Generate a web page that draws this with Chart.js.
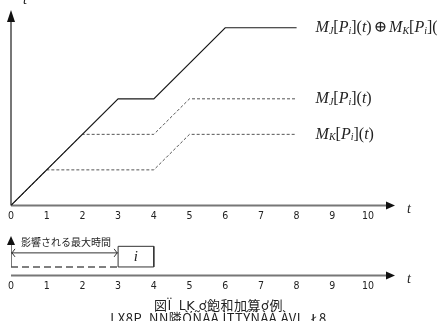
<!DOCTYPE html>
<html>
<head>
<meta charset="utf-8">
<script src="https://cdn.jsdelivr.net/npm/chart.js@4.4.1/dist/chart.umd.min.js"></script>
<style>
    body { margin: 0; background: #fff; }
    #wrap { position: relative; width: 437px; height: 321px; overflow: hidden; background: #fff; }
    #topBox { position: absolute; left: 0; top: 0; width: 437px; height: 228px; }
    #bottomBox { position: absolute; left: 0; top: 228px; width: 437px; height: 72px; }
    .caption { position: absolute; left: 0; width: 437px; text-align: center; color: #222;
        font-family: "Noto Sans CJK JP", "DejaVu Sans", sans-serif; font-size: 13px; line-height: 14px; white-space: pre; letter-spacing: 0.5px; }
</style>
</head>
<body>
<div id="wrap">
    <div id="topBox"><canvas id="topChart" width="437" height="228"></canvas></div>
    <div id="bottomBox"><canvas id="bottomChart" width="437" height="72"></canvas></div>
    <div class="caption" style="top:298px;">図Ï  LĶ ơ飽和加算ơ例</div>
    <div class="caption" style="top:311px;">LX8P  NN隣ÒÑÀÀ ÌTTÝÑÀÀ ÀVL  Ł8</div>
</div>
<script>
// time axis
const xTicks = [0, 1, 2, 3, 4, 5, 6, 7, 8, 9, 10];

// M_J (+) M_K : saturated sum
const sumT = [0, 3, 4, 6, 8];
const sumV = [0, 3, 3, 5, 5];
// M_J[P_i](t)
const jT = [0, 2, 4, 5, 8];
const jV = [0, 2, 2, 3, 3];
// M_K[P_i](t)
const kT = [0, 1, 4, 5, 8];
const kV = [0, 1, 1, 2, 2];

// lower strip: task i occupies [3,4], max affected time 0..3
const waitT = [0, 3];
const waitV = [0.9, 0.9];
const taskT = [3, 3, 4, 4, 3];
const taskV = [0.9, 3.1, 3.1, 0.9, 0.9];
const spanT = [0, 3];
const spanV = [2.4, 2.4];
const markT = [0, 0];
const markV = [0.9, 3.5];

const toPoints = (xs, ys) => xs.map((x, i) => ({ x: x, y: ys[i] }));

const serif = '"Liberation Serif", "DejaVu Serif", serif';

// draws a math-ish label made of pieces (italic / subscript)
function drawMath(ctx, parts, x, y, size) {
    let cx = x;
    parts.forEach(p => {
        const s = p.sub ? Math.round(size * 0.6) : size;
        ctx.font = (p.it ? 'italic ' : '') + s + 'px ' + serif;
        ctx.fillText(p.t, cx, y + (p.sub ? size * 0.22 : 0));
        cx += ctx.measureText(p.t).width + (p.gap || 0);
    });
}

const mj = [{ t: 'M', it: true }, { t: 'J', it: true, sub: true }, { t: '[' }, { t: 'P', it: true },
    { t: 'i', it: true, sub: true }, { t: '](' }, { t: 't', it: true }, { t: ')' }];
const mk = [{ t: 'M', it: true }, { t: 'K', it: true, sub: true }, { t: '[' }, { t: 'P', it: true },
    { t: 'i', it: true, sub: true }, { t: '](' }, { t: 't', it: true }, { t: ')' }];
const msum = [{ t: 'M', it: true }, { t: 'J', it: true, sub: true }, { t: '[' }, { t: 'P', it: true },
    { t: 'i', it: true, sub: true }, { t: '](' }, { t: 't', it: true }, { t: ')', gap: 2 }, { t: '⊕', gap: 2 },
    { t: 'M', it: true }, { t: 'K', it: true, sub: true }, { t: '[' }, { t: 'P', it: true },
    { t: 'i', it: true, sub: true }, { t: '](' }];

function triangle(ctx, pts) {
    ctx.beginPath();
    ctx.moveTo(pts[0][0], pts[0][1]);
    ctx.lineTo(pts[1][0], pts[1][1]);
    ctx.lineTo(pts[2][0], pts[2][1]);
    ctx.closePath();
    ctx.fill();
}

// axis lines with arrow heads
const arrowAxes = {
    id: 'arrowAxes',
    beforeDatasetsDraw(chart, args, opts) {
        const { ctx, chartArea } = chart;
        const L = chartArea.left, B = chartArea.bottom;
        const xEnd = chart.scales.x.right + 1;
        ctx.save();
        ctx.strokeStyle = '#777';
        ctx.lineWidth = 2;
        ctx.beginPath();
        ctx.moveTo(L, B);
        ctx.lineTo(xEnd - 6, B);
        ctx.stroke();
        ctx.fillStyle = '#111';
        triangle(ctx, [[xEnd + 1, B], [xEnd - 8, B - 4], [xEnd - 8, B + 4]]);
        if (opts.yArrow) {
            const T = chartArea.top;
            ctx.beginPath();
            ctx.moveTo(L, B);
            ctx.lineTo(L, T + 8);
            ctx.stroke();
            triangle(ctx, [[L, T], [L - 4, T + 12], [L + 4, T + 12]]);
        }
        // t label at the end of the time axis
        ctx.fillStyle = '#222';
        ctx.font = 'italic 14px ' + serif;
        ctx.textBaseline = 'middle';
        ctx.fillText('t', xEnd + 13, B + 4);
        ctx.restore();
    }
};

const topLabels = {
    id: 'topLabels',
    afterDatasetsDraw(chart) {
        const { ctx, scales } = chart;
        const x0 = scales.x.getPixelForValue(sumT[sumT.length - 1]) + 19;
        ctx.save();
        ctx.fillStyle = '#222';
        ctx.textBaseline = 'middle';
        drawMath(ctx, msum, x0, scales.y.getPixelForValue(sumV[sumV.length - 1]), 16);
        drawMath(ctx, mj, x0, scales.y.getPixelForValue(jV[jV.length - 1]), 16);
        drawMath(ctx, mk, x0, scales.y.getPixelForValue(kV[kV.length - 1]), 16);
        // y axis label
        ctx.font = 'italic 14px ' + serif;
        ctx.textBaseline = 'alphabetic';
        ctx.fillText('t', scales.x.getPixelForValue(0) + 12, 4);
        ctx.restore();
    }
};

const bottomLabels = {
    id: 'bottomLabels',
    afterDatasetsDraw(chart) {
        const { ctx, scales } = chart;
        const x0 = scales.x.getPixelForValue(0);
        ctx.save();
        ctx.fillStyle = '#111';
        const yTop = scales.y.getPixelForValue(4.2);
        triangle(ctx, [[x0, yTop], [x0 - 4, yTop + 9], [x0 + 4, yTop + 9]]);
        // open arrow heads on the span line
        const ys = scales.y.getPixelForValue(spanV[0]);
        const xa = scales.x.getPixelForValue(spanT[0]);
        const xb = scales.x.getPixelForValue(spanT[1]);
        ctx.strokeStyle = '#333';
        ctx.lineWidth = 1;
        ctx.beginPath();
        ctx.moveTo(xa + 4, ys - 4); ctx.lineTo(xa + 1, ys); ctx.lineTo(xa + 4, ys + 4);
        ctx.moveTo(xb - 4, ys - 4); ctx.lineTo(xb - 1, ys); ctx.lineTo(xb - 4, ys + 4);
        ctx.stroke();
        ctx.fillStyle = '#222';
        ctx.textBaseline = 'middle';
        ctx.font = '10px "Noto Sans CJK JP", sans-serif';
        ctx.fillText('影響される最大時間', x0 + 10, yTop + 6);
        ctx.font = 'italic 15px ' + serif;
        ctx.textAlign = 'center';
        ctx.fillText('i', scales.x.getPixelForValue(3.5), scales.y.getPixelForValue(2.0));
        ctx.restore();
    }
};

function xScale(pad) {
    return {
        type: 'linear',
        min: 0,
        max: 10.7,
        afterBuildTicks: axis => { axis.ticks = xTicks.map(v => ({ value: v })); },
        grid: { display: false, drawTicks: false, tickLength: 0 },
        border: { display: false },
        ticks: {
            autoSkip: false,
            maxRotation: 0,
            padding: pad,
            color: '#222',
            font: { family: '"DejaVu Sans Condensed", "DejaVu Sans", sans-serif', size: 10.5 }
        }
    };
}

const dashed = { borderColor: '#555', borderWidth: 1, borderDash: [3, 2] };

new Chart(document.getElementById('topChart'), {
    type: 'line',
    data: {
        datasets: [
            Object.assign({ label: 'MK', data: toPoints(kT, kV), order: 3 }, dashed),
            Object.assign({ label: 'MJ', data: toPoints(jT, jV), order: 2 }, dashed),
            { label: 'sum', data: toPoints(sumT, sumV), borderColor: '#1a1a1a', borderWidth: 1.2, order: 1 }
        ]
    },
    options: {
        responsive: false,
        animation: false,
        events: [],
        layout: { padding: { left: 11, right: 44, top: 10, bottom: 0 } },
        elements: { point: { radius: 0 }, line: { tension: 0 } },
        plugins: { legend: { display: false }, tooltip: { enabled: false }, arrowAxes: { yArrow: true } },
        scales: {
            x: xScale(5),
            y: { type: 'linear', min: 0, max: 5.5, display: false }
        }
    },
    plugins: [arrowAxes, topLabels]
});

new Chart(document.getElementById('bottomChart'), {
    type: 'line',
    data: {
        datasets: [
            { label: 'wait', data: toPoints(waitT, waitV), borderColor: '#555', borderWidth: 1.5, borderDash: [7, 4] },
            { label: 'task', data: toPoints(taskT, taskV), borderColor: '#333', borderWidth: 1 },
            { label: 'span', data: toPoints(spanT, spanV), borderColor: '#333', borderWidth: 1 },
            { label: 'mark', data: toPoints(markT, markV), borderColor: '#777', borderWidth: 2 }
        ]
    },
    options: {
        responsive: false,
        animation: false,
        events: [],
        layout: { padding: { left: 11, right: 44, top: 8, bottom: 2 } },
        elements: { point: { radius: 0 }, line: { tension: 0 } },
        plugins: { legend: { display: false }, tooltip: { enabled: false }, arrowAxes: { yArrow: false } },
        scales: {
            x: xScale(5),
            y: { type: 'linear', min: 0, max: 4.2, display: false }
        }
    },
    plugins: [arrowAxes, bottomLabels]
});
</script>
</body>
</html>
